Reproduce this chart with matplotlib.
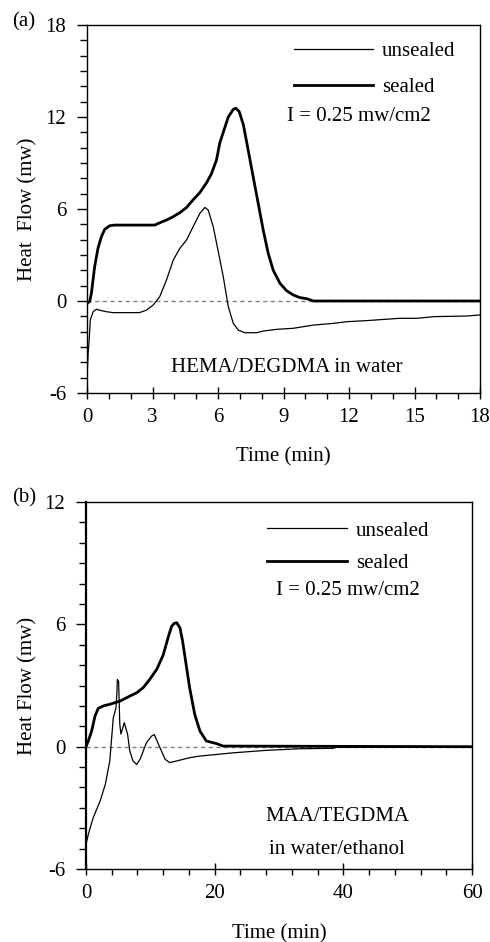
import numpy as np
import matplotlib.pyplot as plt
from matplotlib.ticker import MultipleLocator
from matplotlib.lines import Line2D

plt.rcParams['font.family'] = ['Liberation Serif', 'DejaVu Serif']
plt.rcParams['font.size'] = 15
plt.rcParams['axes.unicode_minus'] = False

# ------------------------------------------------------------
# (a) HEMA/DEGDMA in water
# ------------------------------------------------------------
t_a_sealed = [0, 0.12, 0.2, 0.35, 0.5, 0.66, 0.81, 1.04, 1.27, 3.1, 3.33, 3.64,
              3.95, 4.25, 4.56, 4.86, 5.17, 5.47, 5.7, 5.93, 6.08, 6.24, 6.47,
              6.7, 6.82, 6.97, 7.16, 7.38, 7.61, 7.84, 8.07, 8.3, 8.53, 8.84,
              9.14, 9.45, 9.75, 10.06, 10.37, 18]
hf_a_sealed = [-0.15, -0.04, 0.5, 2.24, 3.43, 4.2, 4.67, 4.91, 4.95, 4.95, 5.1, 5.28,
               5.5, 5.76, 6.1, 6.6, 7.07, 7.7, 8.3, 9.2, 10.3, 11.0, 12.0,
               12.5, 12.57, 12.35, 11.5, 9.85, 8.1, 6.37, 4.63, 3.1, 2.0, 1.15,
               0.67, 0.39, 0.22, 0.15, 0.0, 0.0]

t_a_unsealed = [0, 0.05, 0.1, 0.15, 0.28, 0.43, 0.58, 0.89, 1.2, 2.4, 2.72, 3.03,
                3.33, 3.64, 3.95, 4.25, 4.56, 4.86, 5.17, 5.4, 5.55, 5.78, 6.0,
                6.24, 6.47, 6.7, 6.93, 7.23, 7.77, 8.07, 8.68, 9.45, 10.37,
                11.28, 11.9, 12.8, 14.3, 15.1, 15.9, 17.4, 18]
hf_a_unsealed = [-5.04, -3.4, -2.5, -1.24, -0.7, -0.54, -0.6, -0.7, -0.76, -0.76,
                 -0.6, -0.26, 0.28, 1.37, 2.67, 3.43, 3.98, 4.85, 5.72, 6.1, 5.93,
                 4.85, 3.3, 1.59, -0.37, -1.46, -1.9, -2.07, -2.07, -1.96, -1.85,
                 -1.78, -1.57, -1.46, -1.35, -1.28, -1.13, -1.13, -1.02, -0.98, -0.91]

# ------------------------------------------------------------
# (b) MAA/TEGDMA in water/ethanol
# ------------------------------------------------------------
t_b_sealed = [0, 0.36, 0.88, 1.4, 1.9, 2.7, 3.7, 5.3, 6.8, 7.9, 8.9, 9.9, 11.0,
              12.0, 12.8, 13.3, 13.7, 14.1, 14.6, 15.0, 15.4, 16.1, 16.9, 17.7,
              18.7, 20.3, 21.3, 60]
hf_b_sealed = [0, 0.28, 0.77, 1.5, 1.88, 2.0, 2.08, 2.24, 2.48, 2.65, 2.9, 3.3, 3.8,
               4.5, 5.4, 5.9, 6.05, 6.08, 5.83, 5.2, 4.36, 2.9, 1.58, 0.77,
               0.28, 0.15, 0.03, 0.0]

t_b_unsealed = [0, 0.36, 1.1, 2.2, 3.0, 3.7, 4.24, 4.66, 4.8, 4.87, 5.07, 5.25,
                5.43, 5.95, 6.47, 6.8, 7.3, 7.87, 8.4, 9.4, 10.2, 10.6, 11.5,
                12.3, 13.0, 14.1, 16.1, 17.7, 20.3, 22.9, 28, 33.2, 38.4, 38.9, 60]
hf_b_unsealed = [-4.8, -4.3, -3.5, -2.66, -1.85, -0.7, 1.42, 1.9, 2.6, 3.3, 3.2,
                 1.1, 0.62, 1.18, 0.6, -0.2, -0.7, -0.87, -0.62, 0.2, 0.52, 0.6,
                 -0.05, -0.62, -0.78, -0.7, -0.54, -0.46, -0.38, -0.3, -0.18,
                 -0.1, -0.08, -0.03, -0.03]

fig = plt.figure(figsize=(4.9, 9.42), dpi=100)
ax1 = fig.add_axes([0.1776, 0.5828, 0.802, 0.3907])
ax2 = fig.add_axes([0.1755, 0.0775, 0.788, 0.3895])


def style_axis(ax, xmax, xmajor, xminor, ymin, ymax):
    ax.set_xlim(0, xmax)
    ax.set_ylim(ymin, ymax)
    ax.xaxis.set_major_locator(MultipleLocator(xmajor))
    ax.xaxis.set_minor_locator(MultipleLocator(xminor))
    ax.yaxis.set_major_locator(MultipleLocator(6))
    ax.yaxis.set_minor_locator(MultipleLocator(1))
    ax.tick_params(axis='x', which='major', direction='inout', length=8, width=1, pad=7)
    ax.tick_params(axis='x', which='minor', direction='out', length=4.5, width=1)
    ax.tick_params(axis='y', which='major', direction='out', length=7, width=1, pad=8)
    ax.tick_params(axis='y', which='minor', direction='out', length=5, width=1)
    for s in ax.spines.values():
        s.set_linewidth(1.0)
    ax.axhline(0, color='#808080', lw=1.0, ls=(0, (3, 2.5)), zorder=1)


# panel (a)
style_axis(ax1, 18, 3, 1, -6, 18)
ax1.plot(t_a_unsealed, hf_a_unsealed, color='black', lw=0.9)
ax1.plot(t_a_sealed, hf_a_sealed, color='black', lw=2.0)
ax1.set_xlabel('Time (min)')
ax1.set_ylabel('Heat  Flow (mw)')
ax1.xaxis.set_label_coords(0.5, -0.148)
ax1.yaxis.set_label_coords(-0.125, 0.5)
handles = [Line2D([], [], color='black', lw=0.9), Line2D([], [], color='black', lw=2.0)]
ax1.legend(handles, ['unsealed', 'sealed'], loc='upper left', bbox_to_anchor=(0.499, 0.984),
           frameon=False, borderpad=0, handlelength=3.8, handletextpad=0.45,
           labelspacing=0.8)
ax1.text(0.508, 0.75, 'I = 0.25 mw/cm2', transform=ax1.transAxes, va='center')
ax1.text(0.509, 0.07, 'HEMA/DEGDMA in water', transform=ax1.transAxes,
         ha='center', va='center')
fig.text(0.024, 0.977, '(a)', va='center')

# panel (b)
style_axis(ax2, 60, 20, 4, -6, 12)
ax2.spines['left'].set_linewidth(1.6)
ax2.plot(t_b_unsealed, hf_b_unsealed, color='black', lw=0.9)
ax2.plot(t_b_sealed, hf_b_sealed, color='black', lw=2.0)
ax2.set_xlabel('Time (min)')
ax2.set_ylabel('Heat Flow (mw)')
ax2.xaxis.set_label_coords(0.5, -0.15)
ax2.yaxis.set_label_coords(-0.125, 0.5)
handles = [Line2D([], [], color='black', lw=0.9), Line2D([], [], color='black', lw=2.0)]
ax2.legend(handles, ['unsealed', 'sealed'], loc='upper left', bbox_to_anchor=(0.443, 0.977),
           frameon=False, borderpad=0, handlelength=3.8, handletextpad=0.45,
           labelspacing=0.62)
ax2.text(0.492, 0.76, 'I = 0.25 mw/cm2', transform=ax2.transAxes, va='center')
ax2.text(0.65, 0.142, 'MAA/TEGDMA', transform=ax2.transAxes, ha='center', va='center')
ax2.text(0.65, 0.052, 'in water/ethanol', transform=ax2.transAxes, ha='center', va='center')
fig.text(0.024, 0.472, '(b)', va='center')

fig.savefig('out.png', dpi=100)
